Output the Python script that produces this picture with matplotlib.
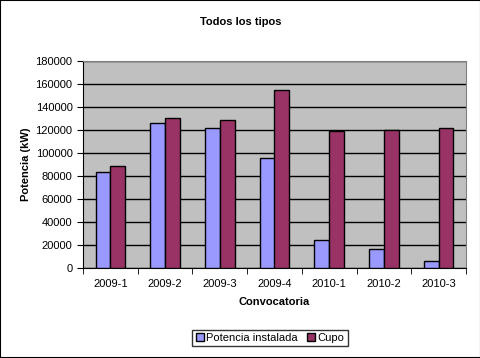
import numpy as np
import matplotlib.pyplot as plt
from matplotlib.patches import Rectangle

plt.rcParams['font.family'] = ['Liberation Sans', 'DejaVu Sans']

# datos
convocatorias = ['2009-1', '2009-2', '2009-3', '2009-4', '2010-1', '2010-2', '2010-3']
potencia_instalada = [83500, 125800, 121500, 95400, 24300, 16200, 5800]
cupo = [88300, 130200, 128400, 154500, 119100, 119700, 121500]

W, H = 481, 358
fig = plt.figure(figsize=(W / 100, H / 100), dpi=100)
fig.patches.append(Rectangle((0, 0), 1, 1, transform=fig.transFigure,
                             fill=False, edgecolor='black', linewidth=1.5))

ax = fig.add_axes([83 / W, 1 - 268 / H, (466 - 83) / W, (268 - 61) / H])
ax.set_facecolor('#C0C0C0')

x = np.arange(len(convocatorias))
w = 0.27
ax.bar(x - w / 2, potencia_instalada, w, color='#9999FF', edgecolor='black',
       linewidth=1, label='Potencia instalada', zorder=3)
ax.bar(x + w / 2, cupo, w, color='#993366', edgecolor='black',
       linewidth=1, label='Cupo', zorder=3)

ax.set_xlim(-0.5, len(convocatorias) - 0.5)
ax.set_ylim(0, 180000)
ax.set_yticks(np.arange(0, 180001, 20000))
ax.yaxis.grid(True, color='black', linewidth=1, zorder=1)
ax.set_xticks(x)
ax.set_xticklabels(convocatorias)
ax.set_xticks(np.arange(-0.5, len(convocatorias)), minor=True)
ax.tick_params(axis='x', which='major', length=0, labelsize=8, pad=8)
ax.tick_params(axis='x', which='minor', length=4, direction='out')
ax.tick_params(axis='y', labelsize=8, length=4, direction='out')

for s in ['top', 'right']:
    ax.spines[s].set_color('#808080')
for s in ['left', 'bottom']:
    ax.spines[s].set_color('black')

ax.set_xlabel('Convocatoria', fontsize=8, fontweight='bold', labelpad=6)
ax.set_ylabel('Potencia (kW)', fontsize=8, fontweight='bold', labelpad=3)
fig.text(0.5, 1 - 22 / H, 'Todos los tipos', ha='center', va='center',
         fontsize=8, fontweight='bold')

leg = fig.legend(loc='center', bbox_to_anchor=(270 / W, 1 - 338 / H), ncol=2,
                 fontsize=8, frameon=True, fancybox=False, edgecolor='black',
                 handlelength=0.7, handleheight=0.7, handletextpad=0.2,
                 columnspacing=0.9, borderpad=0.3, borderaxespad=0)
leg.get_frame().set_linewidth(1)

fig.savefig('out.png', dpi=100)
